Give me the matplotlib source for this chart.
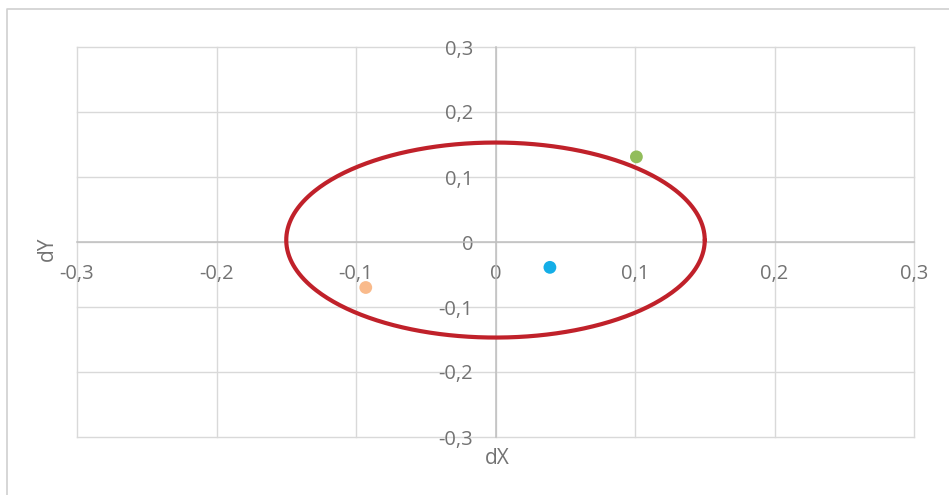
import numpy as np
import matplotlib
matplotlib.use("Agg")
import matplotlib.pyplot as plt
from matplotlib.lines import Line2D

# ---- data ----
point_x = [0.101, 0.039, -0.093]
point_y = [0.131, -0.039, -0.070]
point_colors = ["#92BD5B", "#14AEE7", "#F9BA8B"]

circle_center = (0.0, 0.003)
circle_radius = 0.150

tick_values = [-0.3, -0.2, -0.1, 0.0, 0.1, 0.2, 0.3]
tick_labels = ["-0,3", "-0,2", "-0,1", "0", "0,1", "0,2", "0,3"]
x_title = "dX"
y_title = "dY"

# ---- figure ----
plt.rcParams["font.family"] = ["Open Sans", "DejaVu Sans"]
W, H = 949, 495
fig = plt.figure(figsize=(W / 100, H / 100), dpi=100)
fig.patch.set_facecolor("white")

left, right, top, bottom = 77, 914, 47, 437
ax = fig.add_axes([left / W, (H - bottom) / H, (right - left) / W, (bottom - top) / H])

font_size = 14.5
label_color = "#737373"
grid_color = "#D9D9D9"
axis_color = "#BFBFBF"

for s in ["top", "right"]:
    ax.spines[s].set_visible(False)
ax.spines["bottom"].set_position(("data", 0))
ax.spines["left"].set_position(("data", 0))
for s in ["bottom", "left"]:
    ax.spines[s].set_color(axis_color)
    ax.spines[s].set_linewidth(1.1)
    ax.spines[s].set_zorder(1)

ax.set_xlim(-0.3, 0.3)
ax.set_ylim(-0.3, 0.3)
ax.set_xticks(tick_values)
ax.set_yticks(tick_values)
ax.set_xticklabels(tick_labels)
ax.set_yticklabels(tick_labels)
ax.tick_params(axis="both", length=0, labelsize=font_size, labelcolor=label_color)
ax.tick_params(axis="x", pad=16)
ax.tick_params(axis="y", pad=16)
ax.grid(True, color=grid_color, linewidth=1.0, zorder=0)
for gl in ax.get_xgridlines() + ax.get_ygridlines():
    gl.set_clip_on(False)
ax.set_axisbelow(True)

# circle (red ring)
t = np.linspace(0, 2 * np.pi, 400)
ax.plot(circle_center[0] + circle_radius * np.cos(t),
        circle_center[1] + circle_radius * np.sin(t),
        color="#C0212A", linewidth=3.0, zorder=3, solid_capstyle="round")

# points
ax.scatter(point_x, point_y, c=point_colors, s=85, linewidths=0, zorder=4)

# axis titles
fig.text(497 / W, 1 - 459 / H, x_title, fontsize=15,
         color=label_color, ha="center", va="center")
fig.text(47 / W, 1 - 249 / H, y_title, fontsize=15,
         color=label_color, ha="center", va="center", rotation=90)

# outer chart border (left and top visible)
fig.add_artist(Line2D([7 / W, 7 / W, 1.0], [0.0, 1 - 9 / H, 1 - 9 / H],
                      transform=fig.transFigure, color="#D0D0D0", linewidth=1.2))

fig.savefig("out.png", dpi=100, facecolor="white")
